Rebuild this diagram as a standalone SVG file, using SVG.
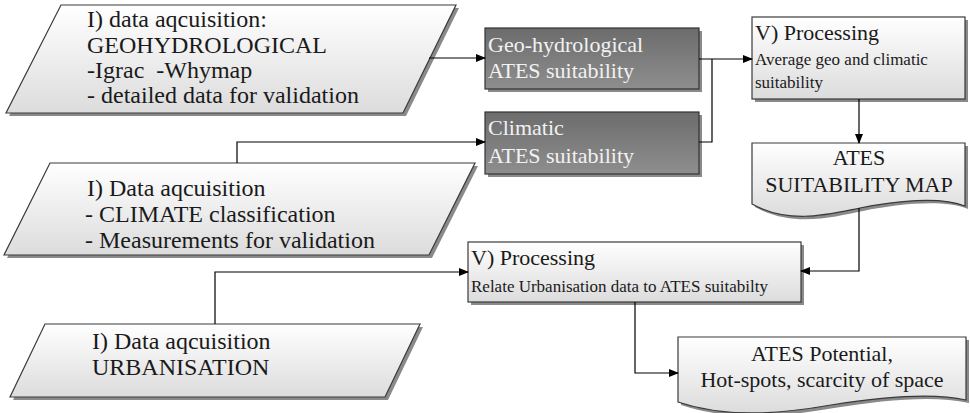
<svg xmlns="http://www.w3.org/2000/svg" width="970" height="413" viewBox="0 0 970 413">
<defs>
<linearGradient id="lg" x1="0" y1="0" x2="0" y2="1">
<stop offset="0" stop-color="#ffffff"/>
<stop offset="1" stop-color="#dcdcdc"/>
</linearGradient>
<linearGradient id="dg" x1="0" y1="0" x2="0" y2="1">
<stop offset="0" stop-color="#6c6c6c"/>
<stop offset="1" stop-color="#8e8e8e"/>
</linearGradient>
<marker id="ah" markerWidth="10" markerHeight="8" refX="9" refY="4" orient="auto" markerUnits="userSpaceOnUse">
<path d="M0,0 L10,4 L0,8 z" fill="#000"/>
</marker>
</defs>
<style>
.lt{fill:url(#lg);stroke:#3a3a3a;stroke-width:1.2}
.dk{fill:url(#dg);stroke:#333;stroke-width:1.2}
.sh{fill:#8a8a8a;stroke:none}
text{font-family:'Liberation Serif','Times New Roman',serif;white-space:pre}
.t{font-size:22px;fill:#1a1a1a}
.tp{font-size:24px;fill:#1a1a1a}
.ts{font-size:17px;fill:#1a1a1a}
.tw{font-size:22px;fill:#f2f2f2}
.c{fill:none;stroke:#000;stroke-width:1.2}
</style>
<rect width="970" height="413" fill="#fff"/>

<g id="acq-geo">
<polygon class="sh" points="64,8 459,8 406,116 9,116"/>
<polygon class="lt" points="61,5 456,5 403,113 6,113"/>
<text class="tp" x="87" y="27">I) data aqcuisition:</text>
<text class="tp" x="87" y="53">GEOHYDROLOGICAL</text>
<text class="tp" x="87" y="78" xml:space="preserve">-Igrac  -Whymap</text>
<text class="tp" x="87" y="103">- detailed data for validation</text>
</g>

<g id="acq-climate">
<polygon class="sh" points="53,166 478,166 432,258 7,258"/>
<polygon class="lt" points="50,163 475,163 429,255 4,255"/>
<text class="tp" x="87" y="196">I) Data aqcuisition</text>
<text class="tp" x="85" y="222">- CLIMATE classification</text>
<text class="tp" x="85" y="248">- Measurements for validation</text>
</g>

<g id="acq-urban">
<polygon class="sh" points="48,327 423,327 388,400 13,400"/>
<polygon class="lt" points="45,324 420,324 385,397 10,397"/>
<text class="tp" x="92" y="349">I) Data aqcuisition</text>
<text class="tp" x="92" y="375">URBANISATION</text>
</g>

<g id="geo-suit">
<rect class="sh" x="488" y="31" width="214" height="61"/>
<rect class="dk" x="485" y="28" width="214" height="61"/>
<text class="tw" x="488" y="52">Geo-hydrological</text>
<text class="tw" x="488" y="78">ATES suitability</text>
</g>

<g id="clim-suit">
<rect class="sh" x="488" y="115" width="214" height="62"/>
<rect class="dk" x="485" y="112" width="214" height="62"/>
<text class="tw" x="488" y="135">Climatic</text>
<text class="tw" x="488" y="163">ATES suitability</text>
</g>

<g id="proc1">
<rect class="sh" x="755" y="20" width="213" height="82"/>
<rect class="lt" x="752" y="17" width="213" height="82"/>
<text class="t" x="755" y="40">V) Processing</text>
<text class="ts" x="755" y="65">Average geo and climatic</text>
<text class="ts" x="755" y="88">suitability</text>
</g>

<g id="map">
<path class="sh" d="M755,146 L968,146 L968,209 C943,199 898,204 863,211 C833,217 793,228 755,207 Z"/>
<path class="lt" d="M752,143 L965,143 L965,206 C940,196 895,201 860,208 C830,214 790,225 752,204 Z"/>
<text class="t" x="859" y="165" text-anchor="middle">ATES</text>
<text class="t" x="859" y="192" text-anchor="middle">SUITABILITY MAP</text>
</g>

<g id="proc2">
<rect class="sh" x="471" y="245" width="333" height="60"/>
<rect class="lt" x="468" y="242" width="333" height="60"/>
<text class="t" x="471" y="265">V) Processing</text>
<text class="ts" x="471" y="292">Relate Urbanisation data to ATES suitabilty</text>
</g>

<g id="potential">
<path class="sh" d="M681,340 L969,340 L969,403 C934,395 884,400 834,408 C794,415 734,423 681,405 Z"/>
<path class="lt" d="M678,337 L966,337 L966,400 C931,392 881,397 831,405 C791,412 731,420 678,402 Z"/>
<text class="t" x="822" y="361" text-anchor="middle">ATES Potential,</text>
<text class="t" x="822" y="387" text-anchor="middle">Hot-spots, scarcity of space</text>
</g>

<g id="connectors">
<path class="c" d="M429,58 L485,58" marker-end="url(#ah)"/>
<path class="c" d="M237,163 L237,142 L485,142" marker-end="url(#ah)"/>
<path class="c" d="M699,59 L752,59" marker-end="url(#ah)"/>
<path class="c" d="M699,142 L712,142 L712,59"/>
<path class="c" d="M859,99 L859,143" marker-end="url(#ah)"/>
<path class="c" d="M859,208 L859,271 L801,271" marker-end="url(#ah)"/>
<path class="c" d="M215,324 L215,272 L468,272" marker-end="url(#ah)"/>
<path class="c" d="M635,302 L635,373 L678,373" marker-end="url(#ah)"/>
</g>
</svg>
